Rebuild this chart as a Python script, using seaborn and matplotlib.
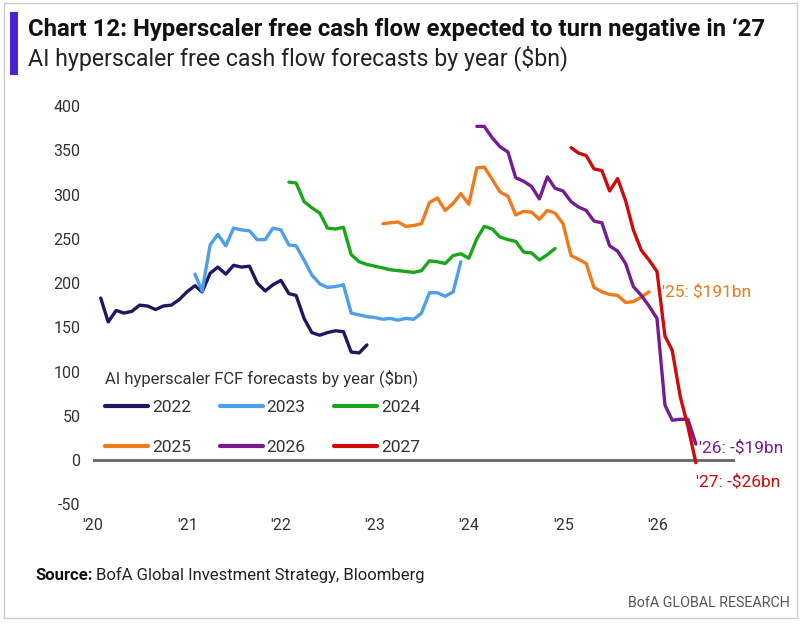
import seaborn as sns
import matplotlib.pyplot as plt
import matplotlib.dates as mdates
from matplotlib.patches import Rectangle
import pandas as pd

# --- data: monthly FCF forecasts ($bn) ---
years = ["2022", "2023", "2024", "2025", "2026", "2027"]
start_months = ["2020-01", "2021-01", "2022-01", "2023-01", "2024-01", "2025-01"]

fcf_2022 = [183, 156, 169, 166, 168, 175, 174, 170, 174, 175, 181, 190, 197, 190, 211, 218,
            210, 220, 218, 219, 200, 191, 198, 203, 188, 186, 160, 144, 141, 144, 146, 145,
            122, 121, 130]
fcf_2023 = [210, 191, 243, 255, 242, 262, 260, 259, 249, 249, 262, 260, 243, 242, 226, 209,
            199, 195, 196, 198, 166, 164, 162, 161, 159, 160, 158, 160, 159, 166, 189, 189,
            185, 190, 224]
fcf_2024 = [314, 313, 292, 285, 279, 262, 261, 263, 232, 224, 221, 219, 217, 215, 214, 213,
            212, 214, 225, 224, 222, 231, 233, 228, 250, 264, 261, 252, 249, 247, 235, 234,
            226, 232, 239]
fcf_2025 = [267, 268, 269, 264, 265, 267, 291, 296, 282, 290, 301, 289, 330, 331, 317, 303,
            298, 277, 281, 280, 272, 282, 279, 267, 231, 227, 222, 195, 190, 187, 186, 178,
            179, 184, 190]
fcf_2026 = [377, 377, 364, 354, 348, 319, 315, 309, 295, 320, 307, 304, 292, 286, 282, 270,
            268, 242, 236, 222, 196, 186, 174, 160, 62, 45, 46, 46, 18]
fcf_2027 = [353, 347, 344, 329, 327, 304, 318, 293, 260, 237, 226, 213, 140, 124, 72, 38, -3]

end_labels = {"2025": "'25: $191bn", "2026": "'26: -$19bn", "2027": "'27: -$26bn"}
colors = ["#1f175f", "#4d9fe8", "#1aa51a", "#ef7a1c", "#761c90", "#cf0a0a"]

series = [fcf_2022, fcf_2023, fcf_2024, fcf_2025, fcf_2026, fcf_2027]
frames = []
for yr, start, vals in zip(years, start_months, series):
    dates = pd.date_range(start, periods=len(vals), freq="MS") + pd.offsets.MonthEnd(0)
    frames.append(pd.DataFrame({"date": dates, "fcf": vals, "year": yr}))
df = pd.concat(frames, ignore_index=True)
palette = dict(zip(years, colors))

sns.set_theme(style="white")
plt.rcParams["font.family"] = ["Roboto", "DejaVu Sans"]
plt.rcParams["axes.unicode_minus"] = False

W, H = 802, 625
fig = plt.figure(figsize=(W / 100, H / 100), dpi=100)
ax = fig.add_axes([93 / W, 1 - 510 / H, 642 / W, 410 / H])

sns.lineplot(data=df, x="date", y="fcf", hue="year", palette=palette,
             linewidth=2.4, ax=ax)
ax.axhline(0, color="#666666", lw=2, zorder=1)

ax.set_xlim(pd.Timestamp("2020-01-01"), pd.Timestamp("2026-10-30"))
ax.set_ylim(-56.5, 406.8)
ax.set_yticks(range(-50, 401, 50))
ax.xaxis.set_major_locator(mdates.YearLocator())
ax.xaxis.set_major_formatter(mdates.DateFormatter("'%y"))
ax.tick_params(axis="both", length=0, labelsize=11.5, labelcolor="#333333")
ax.tick_params(axis="y", pad=9)
ax.tick_params(axis="x", pad=6)
ax.set_xlabel("")
ax.set_ylabel("")
sns.despine(ax=ax, left=True, bottom=True)

# legend: row-major order in 3 columns, title drawn separately
handles, labels = ax.get_legend_handles_labels()
order = [0, 3, 1, 4, 2, 5]
ax.legend([handles[i] for i in order], [labels[i] for i in order],
          loc="upper left", bbox_to_anchor=(12 / 642, 110 / 410), ncol=3,
          frameon=False, fontsize=12.5, handlelength=2.5, handletextpad=0.2,
          columnspacing=1.65, labelspacing=1.45, borderaxespad=0, borderpad=0)
leg = ax.get_legend()
for line in leg.get_lines():
    line.set_linewidth(3)
for txt in leg.get_texts():
    txt.set_color("#333333")
ax.text(12 / 642, 132 / 410, "AI hyperscaler FCF forecasts by year ($bn)", transform=ax.transAxes,
        fontsize=12, color="#333333", va="center", ha="left")

# end-of-line labels
offsets = {"2025": (9, 0), "2026": (2, -3), "2027": (0, -14)}
for yr in end_labels:
    sub = df[df["year"] == yr]
    ax.annotate(end_labels[yr], xy=(sub["date"].iloc[-1], sub["fcf"].iloc[-1]),
                xytext=offsets[yr], textcoords="offset points", color=palette[yr],
                fontsize=12.5, va="center", ha="left")

# titles, source and frame
fig.patches.append(Rectangle((4 / W, 1 - 618 / H), 793 / W, 615 / H, transform=fig.transFigure,
                             fill=False, edgecolor="#cccccc", lw=1))
fig.patches.append(Rectangle((10 / W, 1 - 75 / H), 8 / W, 63 / H, transform=fig.transFigure,
                             facecolor="#4b23d3", edgecolor="none"))
title = fig.text(28 / W, 1 - 29 / H,
                 "Chart 12: Hyperscaler free cash flow expected to turn negative in ‘27",
                 fontsize=17, fontweight="bold", color="#111111", va="center")
subtitle = fig.text(28 / W, 1 - 58 / H, "AI hyperscaler free cash flow forecasts by year ($bn)",
                    fontsize=16, color="#222222", va="center")
fig.canvas.draw()
r = fig.canvas.get_renderer()


def fit_width(txt, width_px):
    w = txt.get_window_extent(r).width
    txt.set_fontsize(txt.get_fontsize() * width_px / w)


fit_width(title, 737)
fit_width(subtitle, 540)

src_size = 12
src_bold = fig.text(35 / W, 1 - 575 / H, "Source:", fontsize=src_size, fontweight="bold",
                    color="#111111", va="center")
fig.canvas.draw()
sx = src_bold.get_window_extent(r).x1
src_rest = fig.text((sx + 4) / W, 1 - 575 / H, "BofA Global Investment Strategy, Bloomberg",
                    fontsize=src_size, color="#222222", va="center")
brand = fig.text(790 / W, 1 - 603 / H, "BofA GLOBAL RESEARCH", fontsize=12,
                 color="#555555", va="center", ha="right")
fit_width(brand, 162)

fig.savefig("out.png", dpi=100)
